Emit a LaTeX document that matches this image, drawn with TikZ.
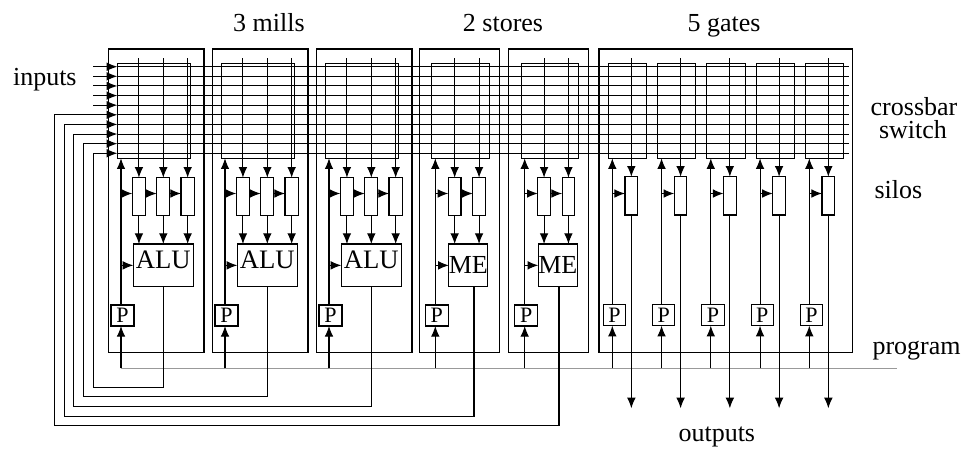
\documentclass[tikz,border=0pt]{standalone}
\usepackage{fontspec}
\setmainfont{Liberation Serif}
\usetikzlibrary{arrows.meta}
\newcommand\bx[7][]{\node[draw, inner sep=0pt, outer sep=0pt, minimum width={((#5)-(#3))*0.75pt}, minimum height={((#6)-(#4))*0.75pt},#1] (#2) at ({((#3)+(#5))/2},{((#4)+(#6))/2}) {#7};}
\begin{document}
\begin{tikzpicture}[x=0.75pt,y=-0.75pt,line width=0.8pt,
 arr/.style={-{Latex[length=8pt,width=6.5pt]}},
 lbl/.style={font=\fontsize{19.5}{22}\selectfont, inner sep=0pt},
 alutext/.style={font=\fontsize{20}{22}\selectfont, text depth=9pt},
 metext/.style={font=\fontsize{19.5}{22}\selectfont},
 pst/.style={font=\fontsize{16.5}{18}\selectfont},
 prog/.style={draw=black!40}]
\useasboundingbox (0,0) rectangle (964,451);

% labels
\node[lbl, anchor=base] (tm) at (269,31) {3 mills};
\node[lbl, anchor=base] (ts) at (503,31) {2 stores};
\node[lbl, anchor=base] (tg) at (724,31) {5 gates};
\node[lbl, anchor=base west] (tin) at (12.5,85) {inputs};
\node[lbl, anchor=base] (tc1) at (914,115) {crossbar};
\node[lbl, anchor=base] (tc2) at (913,138) {switch};
\node[lbl, anchor=base west] (tsi) at (874,198.3) {silos};
\node[lbl, anchor=base west] (tpr) at (872,354) {program};
\node[lbl, anchor=base west] (tou) at (678,441) {outputs};

% crossbar lines
\foreach \k in {0,...,9}{
  \pgfmathsetmacro\yy{66.7+9.62*\k}
  \coordinate (L\k) at (117.3,\yy);
  \coordinate (R\k) at (849.3,\yy);
  \draw (L\k) -- (R\k);
}
\foreach \k in {0,...,4}{
  \draw[arr] ([xshift=-18pt]L\k) -- (L\k);
}

% program bus
\draw[prog] (121,368.3) coordinate (pg0) -- (897,368.3) coordinate (pg1);

% mills
\foreach \i in {0,1,2}{
  \pgfmathsetmacro\dx{104*\i}
  \bx{mill\i}{108.3+\dx}{49}{204+\dx}{352.7}{}
  \bx{mx\i}{117.3+\dx}{63.3}{190.7+\dx}{158.3}{}
  \bx[alutext]{alu\i}{133.3+\dx}{244}{193.3+\dx}{286.7}{ALU}
  \foreach \s in {0,1,2}{
    \bx{ms\i\s}{132.3+24.35*\s+\dx}{177.7}{145.6+24.35*\s+\dx}{215.7}{}
    \draw[arr] (ms\i\s.north |- 0,58) -- (ms\i\s.north);
    \draw[arr] (ms\i\s.south) -- (ms\i\s.south |- alu\i.north);
  }
  \draw[arr] (ms\i0.east |- 0,193.5) -- (ms\i1.west |- 0,193.5);
  \draw[arr] (ms\i1.east |- 0,193.5) -- (ms\i2.west |- 0,193.5);
  \bx[pst]{mp\i}{111+\dx}{305}{134+\dx}{326}{P}
  \coordinate (mq\i) at (121+\dx,305);
  \draw[arr] (mq\i) -- (mq\i |- mx\i.south);
  \draw[arr] (mq\i |- 0,193.5) -- (ms\i0.west |- 0,193.5);
  \draw[arr] (mq\i |- alu\i.west) -- (alu\i.west);
  \draw[arr] (mq\i |- 0,368.3) -- (mq\i |- mp\i.south);
  \pgfmathsetmacro\xf{93.3-9.75*\i}
  \pgfmathsetmacro\yb{387.3+9.6*\i}
  \pgfmathtruncatemacro\lnum{9-\i}
  \draw[arr] (alu\i.south) -- (alu\i.south |- 0,\yb) -- (\xf,\yb) -- (L\lnum -| \xf,0) -- (L\lnum);
}

% stores
\foreach \j in {0,1}{
  \pgfmathsetmacro\dx{89.4*\j}
  \bx{st\j}{419.3+\dx}{49}{499.3+\dx}{352.7}{}
  \bx{sx\j}{431.7+\dx}{63.3}{489.3+\dx}{158.3}{}
  \bx[metext]{me\j}{449+\dx}{244}{487.7+\dx}{286.7}{ME}
  \foreach \s in {0,1}{
    \bx{ss\j\s}{448.3+24.4*\s+\dx}{177.7}{461+24.4*\s+\dx}{215.7}{}
    \draw[arr] (ss\j\s.north |- 0,58) -- (ss\j\s.north);
    \draw[arr] (ss\j\s.south) -- (ss\j\s.south |- me\j.north);
  }
  \draw[arr] (ss\j0.east |- 0,193.5) -- (ss\j1.west |- 0,193.5);
  \pgfmathsetmacro\px{435.3+\dx}
  \bx[pst]{sp\j}{\px-10}{305}{\px+13}{326}{P}
  \coordinate (sq\j) at (\px,305);
  \draw[arr] (sq\j) -- (sq\j |- sx\j.south);
  \draw[arr] (sq\j |- 0,193.5) -- (ss\j0.west |- 0,193.5);
  \draw[arr] (sq\j |- me\j.west) -- (me\j.west);
  \draw[arr] (sq\j |- 0,368.3) -- (sq\j |- sp\j.south);
  \pgfmathsetmacro\xo{474+85*\j}
  \pgfmathsetmacro\xf{93.3-9.75*(\j+3)}
  \pgfmathsetmacro\yb{387.3+9.6*(\j+3)}
  \pgfmathtruncatemacro\lnum{6-\j}
  \coordinate (so\j) at (\xo,286.7);
  \draw[arr] (so\j) -- (\xo,\yb) -- (\xf,\yb) -- (L\lnum -| \xf,0) -- (L\lnum);
}

% gates
\bx{gates}{599}{49}{852.3}{352.7}{}
\foreach \k in {0,...,4}{
  \pgfmathsetmacro\dx{49.25*\k}
  \bx{gx\k}{608.3+\dx}{63.3}{646.7+\dx}{158.3}{}
  \bx{gs\k}{625+\dx}{176.7}{637.7+\dx}{215}{}
  \draw[arr] (gs\k.north |- 0,58) -- (gs\k.north);
  \pgfmathsetmacro\px{612.3+\dx}
  \bx[pst]{gp\k}{\px-9}{304.3}{\px+13.4}{325.7}{P}
  \coordinate (gq\k) at (\px,304.3);
  \draw[arr] (gq\k) -- (gq\k |- gx\k.south);
  \draw[arr] (gq\k |- 0,193.5) -- (gs\k.west |- 0,193.5);
  \draw[arr] (gq\k |- 0,368.3) -- (gq\k |- gp\k.south);
  \draw[arr] (gs\k.south) -- (gs\k.south |- 0,408.3);
}
\end{tikzpicture}
\end{document}
